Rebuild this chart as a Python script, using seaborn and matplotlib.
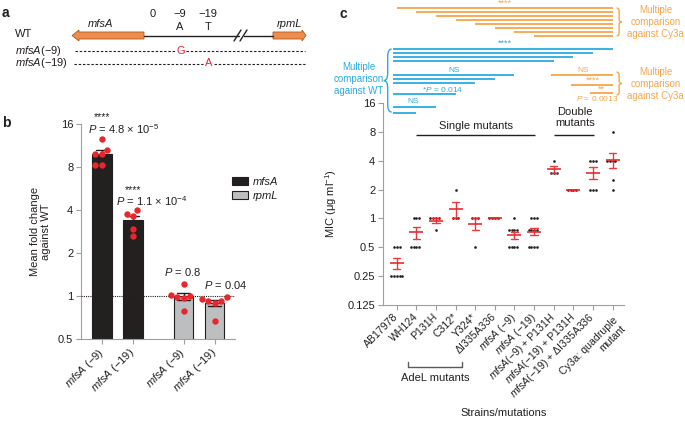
import numpy as np
import pandas as pd
import matplotlib
matplotlib.use("Agg")
import matplotlib.pyplot as plt
import seaborn as sns
from matplotlib import transforms
from matplotlib.path import Path
from matplotlib.patches import PathPatch, FancyArrow, Patch
from matplotlib.ticker import FixedLocator, FixedFormatter, NullLocator

# ---------------- data: panel b (fold change vs WT) ----------------
b_gene = ["mfsA", "mfsA", "rpmL", "rpmL"]
b_tick_labels = [r"$\it{mfsA}$ (−9)", r"$\it{mfsA}$ (−19)",
                 r"$\it{mfsA}$ (−9)", r"$\it{mfsA}$ (−19)"]
b_fold_mfsA_9 = [12.6, 10.6, 9.9, 9.9, 8.2, 8.2]
b_fold_mfsA_19 = [3.97, 3.76, 3.66, 2.93, 2.62]
b_fold_rpmL_9 = [1.21, 1.02, 1.00, 0.98, 0.97, 0.79]
b_fold_rpmL_19 = [0.98, 0.95, 0.93, 0.93, 0.90, 0.67]
b_stars = ["****", "****", "", ""]
b_pvals = [r"$\it{P}$ = 4.8 × $10^{-5}$", r"$\it{P}$ = 1.1 × $10^{-4}$",
           r"$\it{P}$ = 0.8", r"$\it{P}$ = 0.04"]
b_yticks = [0.5, 1, 2, 4, 8, 16]
b_ytick_labels = ["0.5", "1", "2", "4", "8", "16"]

# ---------------- data: panel c (MIC) ----------------
c_strains = ["AB17978", "WH124", "P131H", "C312*", "Y324*", "dI335A336",
             "mfsA-9", "mfsA-19", "mfsA-9+P131H", "mfsA-19+P131H",
             "mfsA-19+dI335A336", "Cy3a"]
c_tick_labels = ["AB17978", "WH124", "P131H", "C312*", "Y324*", "ΔI335A336",
                 r"$\it{mfsA}$ (−9)", r"$\it{mfsA}$ (−19)",
                 r"$\it{mfsA}$(−9) + P131H", r"$\it{mfsA}$(−19) + P131H",
                 r"$\it{mfsA}$(−19) + ΔI335A336", "Cy3a: quadruple\nmutant"]
c_mic = [
    [0.5, 0.5, 0.5, 0.25, 0.25, 0.25, 0.25, 0.25],
    [1, 1, 1, 0.5, 0.5, 0.5, 0.5],
    [1, 1, 1, 1, 0.75],
    [2, 1, 1, 1],
    [1, 1, 1, 0.5],
    [1, 1, 1, 1],
    [1, 0.75, 0.75, 0.75, 0.75, 0.5, 0.5, 0.5, 0.5],
    [1, 1, 1, 0.75, 0.75, 0.75, 0.75, 0.5, 0.5, 0.5, 0.5],
    [4, 3, 3, 3],
    [2, 2, 2, 2],
    [4, 4, 4, 2, 2, 2],
    [8, 4, 4, 4, 4, 2.5, 2],
]
c_yticks = [0.125, 0.25, 0.5, 1, 2, 4, 8, 16]
c_ytick_labels = ["0.125", "0.25", "0.5", "1", "2", "4", "8", "16"]
# comparisons: WT (index 0) against these strains
c_vs_wt_targets = [11, 10, 9, 8, 6, 5, 4, 3, 2, 1]
# Cy3a (index 11) against these strains
c_vs_cy3a_top = [0, 1, 2, 3, 4, 5, 6, 7]
c_vs_cy3a_low = [8, 9, 10]

# ---------------- style ----------------
DARK = "#231f20"
GRAYBAR = "#bcbec0"
AXGRAY = "#9d9fa2"
RED = "#e8262b"
BLUE = "#29abe2"
ORANGE = "#f7a54a"
ARROW = "#ef8c4c"

sns.set_theme(style="ticks", context="paper")
plt.rcParams.update({
    "font.family": ["Liberation Sans", "DejaVu Sans"],
    "font.size": 8, "axes.labelsize": 8,
    "xtick.labelsize": 8, "ytick.labelsize": 8,
    "axes.edgecolor": AXGRAY, "xtick.color": AXGRAY, "ytick.color": AXGRAY,
    "xtick.labelcolor": DARK, "ytick.labelcolor": DARK,
    "axes.labelcolor": DARK, "text.color": DARK,
    "axes.linewidth": 0.8, "xtick.major.width": 0.8, "ytick.major.width": 0.8,
    "xtick.major.size": 3.5, "ytick.major.size": 3.5,
    "xtick.major.pad": 2, "ytick.major.pad": 2,
    "mathtext.fontset": "custom",
    "mathtext.rm": "Liberation Sans",
    "mathtext.it": "Liberation Sans:italic",
    "mathtext.bf": "Liberation Sans:bold",
    "mathtext.sf": "Liberation Sans",
})

W, H = 685, 426
fig = plt.figure(figsize=(W / 100, H / 100), dpi=100)


def fx(px):
    return px / W


def fy(py):
    return 1 - py / H


# ====================== panel a: schematic ======================
axa = fig.add_axes([0, fy(90), 330 / W, 90 / H])
axa.set_xlim(0, 330)
axa.set_ylim(90, 0)
axa.axis("off")
yl = 35.5
axa.add_patch(FancyArrow(144, yl, -72, 0, width=7, head_width=11, head_length=7,
                         length_includes_head=True, fc=ARROW, ec="#a65a2a", lw=0.6))
axa.add_patch(FancyArrow(273, yl, 33, 0, width=7, head_width=11, head_length=4,
                         length_includes_head=True, fc=ARROW, ec="#a65a2a", lw=0.6))
axa.plot([144, 239], [yl, yl], color=DARK, lw=1.0)
axa.plot([244, 273], [yl, yl], color=DARK, lw=1.0)
axa.plot([234, 241], [41, 30], color=DARK, lw=1.0)
axa.plot([240, 247], [41, 30], color=DARK, lw=1.0)
axa.text(100, 24, "mfsA", style="italic", ha="center", va="center", fontsize=8)
axa.text(290, 24, "rpmL", style="italic", ha="center", va="center", fontsize=8)
axa.text(153, 14, "0", ha="center", va="center", fontsize=8)
axa.text(180, 14, "−9", ha="center", va="center", fontsize=8)
axa.text(208, 14, "−19", ha="center", va="center", fontsize=8)
axa.text(180, 27.5, "A", ha="center", va="center", fontsize=8)
axa.text(208, 27.5, "T", ha="center", va="center", fontsize=8)
axa.text(15, 34, "WT", ha="left", va="center", fontsize=8)
axa.text(15, 50.5, r"$\it{mfsA}$(−9)", ha="left", va="center", fontsize=8)
axa.text(15, 63.5, r"$\it{mfsA}$(−19)", ha="left", va="center", fontsize=8)
dash = (0, (2.2, 1.6))
axa.plot([75, 175], [50.5, 50.5], color=DARK, lw=0.8, ls=dash)
axa.plot([186, 305], [50.5, 50.5], color=DARK, lw=0.8, ls=dash)
axa.text(180.5, 50.5, "G", color=RED, ha="center", va="center", fontsize=8)
axa.plot([74, 203], [63.5, 63.5], color=DARK, lw=0.8, ls=dash)
axa.plot([214, 305], [63.5, 63.5], color=DARK, lw=0.8, ls=dash)
axa.text(208.5, 63.5, "A", color=RED, ha="center", va="center", fontsize=8)

# ====================== panel b: bars ======================
axb = fig.add_axes([fx(81), fy(339), (235 - 81) / W, (339 - 124) / H])
slots = [0.0, 1.0, 2.63, 3.63]
rows = []
for i, vals in enumerate([b_fold_mfsA_9, b_fold_mfsA_19, b_fold_rpmL_9, b_fold_rpmL_19]):
    for v in vals:
        rows.append({"slot": slots[i], "gene": b_gene[i], "fold": v})
dfb = pd.DataFrame(rows)
sns.barplot(data=dfb, x="slot", y="fold", hue="gene", native_scale=True,
            palette={"mfsA": DARK, "rpmL": GRAYBAR}, errorbar="se", capsize=0.4,
            width=0.62, edgecolor=DARK, linewidth=0.8,
            err_kws={"color": DARK, "linewidth": 1.0}, legend=False, ax=axb)
axb.set_yscale("log", base=2)
axb.set_ylim(0.5, 16)
axb.axhline(1, color=DARK, lw=0.8, ls=(0, (1, 1)), zorder=3)
sns.swarmplot(data=dfb, x="slot", y="fold", native_scale=True, color=RED,
              size=4.6, ax=axb, zorder=5)
axb.set_xlim(-0.68, 4.29)
axb.yaxis.set_major_locator(FixedLocator(b_yticks))
axb.yaxis.set_major_formatter(FixedFormatter(b_ytick_labels))
axb.yaxis.set_minor_locator(NullLocator())
axb.set_xticks(slots)
axb.set_xticklabels(b_tick_labels, rotation=45, ha="right", va="center",
                    rotation_mode="anchor")
axb.tick_params(axis="x", pad=5)
axb.set_xlabel("")
axb.set_ylabel("Mean fold change\nagainst WT", labelpad=5)
sns.despine(ax=axb)
# annotations over bars
axb.text(slots[0], 17.9, b_stars[0], ha="center", va="center", fontsize=7.5)
axb.text(0.68, 14.8, b_pvals[0], ha="center", va="center", fontsize=8)
axb.text(slots[1], 5.54, b_stars[1], ha="center", va="center", fontsize=7.5)
axb.text(1.61, 4.6, b_pvals[1], ha="center", va="center", fontsize=8)
axb.text(2.61, 1.47, b_pvals[2], ha="center", va="center", fontsize=8)
axb.text(3.98, 1.19, b_pvals[3], ha="center", va="center", fontsize=8)
handles = [Patch(facecolor=DARK, edgecolor=DARK, lw=0.8),
           Patch(facecolor=GRAYBAR, edgecolor=DARK, lw=0.8)]
axb.legend(handles, ["mfsA", "rpmL"], loc="upper left",
           bbox_to_anchor=(fx(232), fy(177)), bbox_transform=fig.transFigure,
           frameon=False, handlelength=1.4, handleheight=0.75, handletextpad=0.5,
           labelspacing=0.35, borderaxespad=0, borderpad=0,
           prop={"style": "italic", "size": 8})

# ====================== panel c: MIC ======================
axc = fig.add_axes([fx(383), fy(305), (624.4 - 383) / W, (305 - 103) / H])
rows = [(s, v) for s, vals in zip(c_strains, c_mic) for v in vals]
dfc = pd.DataFrame(rows, columns=["strain", "mic"])
n0 = len(axc.lines)
sns.pointplot(data=dfc, x="strain", y="mic", order=c_strains, errorbar="se",
              color=RED, markers="_", markersize=9.5, markeredgewidth=1.3,
              linestyle="none", capsize=0.38, err_kws={"linewidth": 1.0}, ax=axc)
for ln in axc.lines[n0:]:
    ln.set_zorder(4)
    ln.set_alpha(0.9)
axc.set_yscale("log", base=2)
axc.set_ylim(0.125, 16)
sns.swarmplot(data=dfc, x="strain", y="mic", order=c_strains, color=DARK,
              size=1.9, ax=axc, zorder=3)
axc.set_xlim(-0.7, 11.6)
axc.yaxis.set_major_locator(FixedLocator(c_yticks))
axc.yaxis.set_major_formatter(FixedFormatter(c_ytick_labels))
axc.yaxis.set_minor_locator(NullLocator())
axc.set_xticks(range(len(c_strains)))
axc.set_xticklabels(c_tick_labels, rotation=45, ha="right", va="center",
                    rotation_mode="anchor", fontsize=7.6)
axc.get_xticklabels()[-1].set_va("top")
axc.tick_params(axis="x", pad=4)
axc.set_xlabel("Strains/mutations", labelpad=5)
axc.set_ylabel(r"MIC (μg ml$^{-1}$)", labelpad=6)
sns.despine(ax=axc)

tr = transforms.blended_transform_factory(axc.transData, axc.transAxes)


def hline(x0, x1, y, color, lw=1.3):
    axc.plot([x0, x1], [y, y], color=color, lw=lw, transform=tr, clip_on=False,
             solid_capstyle="butt")


def label(x, y, s, color, size=6, **kw):
    axc.text(x, y, s, color=color, fontsize=size, ha="center", va="center",
             transform=tr, clip_on=False, **kw)


def brace(x, y0, y1, w, color, side):
    # side=-1: '{' tip to the left ; side=+1: '}' tip to the right
    r = (y1 - y0) * 0.12
    ym = (y0 + y1) / 2
    verts = [(x - side * w, y0), (x, y0), (x, y0 + r),
             (x, ym - r), (x, ym), (x + side * w, ym),
             (x, ym), (x, ym + r),
             (x, y1 - r), (x, y1), (x - side * w, y1)]
    codes = [Path.MOVETO, Path.CURVE3, Path.CURVE3,
             Path.LINETO, Path.CURVE3, Path.CURVE3,
             Path.CURVE3, Path.CURVE3,
             Path.LINETO, Path.CURVE3, Path.CURVE3]
    axc.add_patch(PathPatch(Path(verts, codes), fc="none", ec=color, lw=1.0,
                            transform=tr, clip_on=False))


# orange: comparisons vs Cy3a (top block)
for k, s in enumerate(c_vs_cy3a_top):
    hline(s, 11, 1.470 - k * 0.0197, ORANGE)
label(5.5, 1.495, "****", ORANGE, size=6.5)
brace(11.33, 1.332, 1.470, 0.13, ORANGE, +1)
label(13.2, 1.40, "Multiple\ncomparison\nagainst Cy3a", ORANGE, size=7,
      linespacing=1.25)

# blue: comparisons vs WT
blue_y = [1.267, 1.248, 1.228, 1.208, 1.139, 1.119, 1.099, 1.045, 0.980, 0.950]
for t, yy in zip(c_vs_wt_targets, blue_y):
    hline(-0.2, t, yy, BLUE)
label(5.5, 1.294, "****", BLUE, size=6.5)
label(2.9, 1.163, "NS", BLUE)
label(2.35, 1.069, r"*$\it{P}$ = 0.014", BLUE)
label(0.82, 1.005, "NS", BLUE)
brace(-0.46, 0.955, 1.267, 0.2, BLUE, -1)
label(-1.95, 1.12, "Multiple\ncomparison\nagainst WT", BLUE, size=7,
      linespacing=1.25)

# orange: lower block vs Cy3a
low_y = [1.139, 1.089, 1.050]
for s, yy in zip(c_vs_cy3a_low, low_y):
    hline(s - 0.14, 11, yy, ORANGE)
label(9.5, 1.163, "NS", ORANGE)
label(10.0, 1.112, "****", ORANGE, size=6.5)
label(10.45, 1.068, "**", ORANGE, size=6.5)
label(10.2, 1.020, r"$\it{P}$ = 0.0013", ORANGE)
brace(11.33, 1.040, 1.153, 0.13, ORANGE, +1)
label(13.2, 1.094, "Multiple\ncomparison\nagainst Cy3a", ORANGE, size=7,
      linespacing=1.25)

# group labels
label(4.03, 0.886, "Single mutants", DARK, size=8)
hline(0.97, 7.04, 0.842, DARK, lw=1.0)
label(9.08, 0.928, "Double\nmutants", DARK, size=8, linespacing=1.1)
hline(8.0, 10.05, 0.842, DARK, lw=1.0)
axc.plot([0.56, 0.56, 3.3, 3.3], [-0.282, -0.307, -0.307, -0.282], color="#58595b",
         lw=1.0, transform=tr, clip_on=False)
label(1.94, -0.361, "AdeL mutants", DARK, size=8)

# panel letters
fig.text(fx(2), fy(13), "a", fontsize=10, fontweight="bold", va="center")
fig.text(fx(2), fy(123), "b", fontsize=10, fontweight="bold", va="center")
fig.text(fx(340), fy(14), "c", fontsize=10, fontweight="bold", va="center")

fig.savefig("out.png", dpi=100)
